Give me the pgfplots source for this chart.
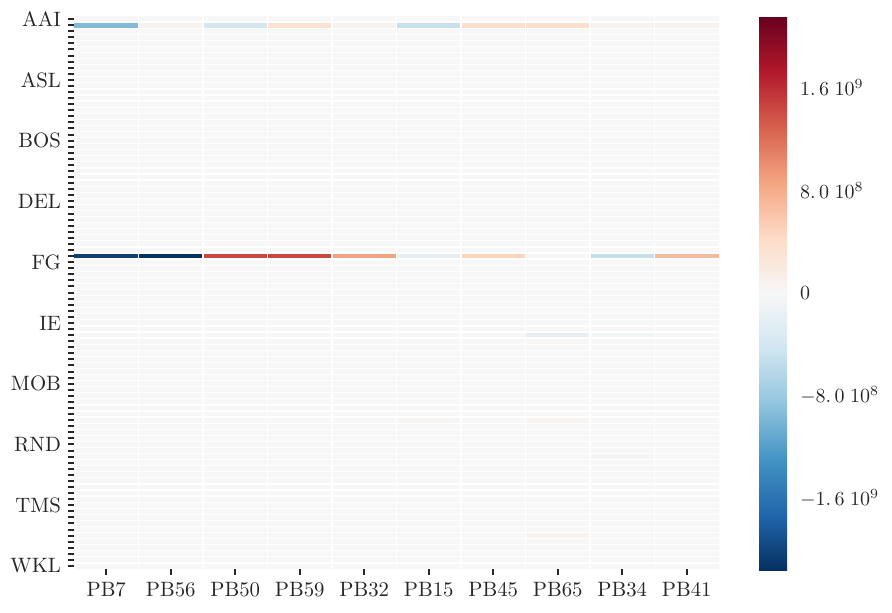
\documentclass[border=0pt]{standalone}
\usepackage{pgfplots}
\pgfplotsset{compat=1.18}
\definecolor{tickgray}{HTML}{262626}
\begin{document}
\begin{tikzpicture}
\begin{axis}[
  name=main,
  scale only axis, width=322.5pt, height=276.5pt,
  xmin=-0.5, xmax=9.5, ymin=-0.5, ymax=90.5,
  axis on top,
  axis line style={draw=none},
  colormap={rdbur}{rgb255=(5,48,97) rgb255=(33,102,172) rgb255=(67,147,195) rgb255=(146,197,222) rgb255=(209,229,240) rgb255=(247,247,247) rgb255=(253,219,199) rgb255=(244,165,130) rgb255=(214,96,77) rgb255=(178,24,43) rgb255=(103,0,31)},
  point meta min=-2.16e9, point meta max=2.16e9,
  xtick={0,...,9},
  xticklabels={PB7,PB56,PB50,PB59,PB32,PB15,PB45,PB65,PB34,PB41},
  ytick={0,10,...,90},
  yticklabels={WKL,TMS,RND,MOB,IE,FG,DEL,BOS,ASL,AAI},
  minor ytick={0,...,90},
  tick align=outside, xtick pos=bottom, ytick pos=left,
  major tick length=3pt, minor tick length=3pt,
  every tick/.style={tickgray, line width=1pt},
  tick label style={font=\fontsize{10.4}{12.5}\selectfont, text=tickgray},
  extra x ticks={0.5,1.5,...,8.5}, extra y ticks={0.5,1.5,...,89.5},
  extra x tick labels={}, extra y tick labels={},
  extra tick style={grid=major, major tick length=0pt, minor tick length=0pt, major grid style={white, line width=0.6pt}},
  colorbar right,
  colorbar style={
    scale only axis, width=14pt, height=277pt,
    at={(parent axis.north east)}, anchor=north west, xshift=11.5pt,
    scaled y ticks=false,
    ytick={-1.6e9,-8e8,0,8e8,1.6e9},
    yticklabels={$-1.{\,}6\;10^{9}$,$-8.{\,}0\;10^{8}$,$0$,$8.{\,}0\;10^{8}$,$1.{\,}6\;10^{9}$},
    minor ytick={}, extra y ticks={}, extra x ticks={},
    major tick length=0pt,
    axis line style={draw=none},
    yticklabel style={font=\fontsize{10.4}{12.5}\selectfont, text=tickgray, xshift=3pt},
  },
]
\addplot[matrix plot*, mesh/cols=10, point meta=explicit] coordinates {
(0,0)[0] (1,0)[0] (2,0)[0] (3,0)[0] (4,0)[0] (5,0)[0] (6,0)[0] (7,0)[0] (8,0)[0] (9,0)[0]
(0,1)[0] (1,1)[0] (2,1)[0] (3,1)[0] (4,1)[0] (5,1)[0] (6,1)[0] (7,1)[0] (8,1)[0] (9,1)[0]
(0,2)[0] (1,2)[0] (2,2)[0] (3,2)[0] (4,2)[0] (5,2)[0] (6,2)[0] (7,2)[0] (8,2)[0] (9,2)[0]
(0,3)[0] (1,3)[0] (2,3)[0] (3,3)[0] (4,3)[0] (5,3)[0] (6,3)[0] (7,3)[0] (8,3)[0] (9,3)[0]
(0,4)[0] (1,4)[0] (2,4)[0] (3,4)[0] (4,4)[0] (5,4)[0] (6,4)[0] (7,4)[0] (8,4)[0] (9,4)[0]
(0,5)[0] (1,5)[0] (2,5)[0] (3,5)[0] (4,5)[0] (5,5)[0] (6,5)[0] (7,5)[7e7] (8,5)[0] (9,5)[0]
(0,6)[0] (1,6)[0] (2,6)[0] (3,6)[0] (4,6)[0] (5,6)[0] (6,6)[0] (7,6)[0] (8,6)[0] (9,6)[0]
(0,7)[0] (1,7)[0] (2,7)[0] (3,7)[0] (4,7)[0] (5,7)[0] (6,7)[0] (7,7)[0] (8,7)[0] (9,7)[0]
(0,8)[0] (1,8)[0] (2,8)[0] (3,8)[0] (4,8)[0] (5,8)[0] (6,8)[0] (7,8)[0] (8,8)[0] (9,8)[0]
(0,9)[0] (1,9)[0] (2,9)[0] (3,9)[0] (4,9)[0] (5,9)[0] (6,9)[0] (7,9)[0] (8,9)[0] (9,9)[0]
(0,10)[0] (1,10)[0] (2,10)[0] (3,10)[0] (4,10)[0] (5,10)[0] (6,10)[0] (7,10)[0] (8,10)[0] (9,10)[0]
(0,11)[0] (1,11)[0] (2,11)[0] (3,11)[0] (4,11)[0] (5,11)[0] (6,11)[0] (7,11)[0] (8,11)[0] (9,11)[0]
(0,12)[0] (1,12)[0] (2,12)[0] (3,12)[0] (4,12)[0] (5,12)[0] (6,12)[0] (7,12)[0] (8,12)[0] (9,12)[0]
(0,13)[0] (1,13)[0] (2,13)[0] (3,13)[0] (4,13)[0] (5,13)[0] (6,13)[0] (7,13)[0] (8,13)[0] (9,13)[0]
(0,14)[0] (1,14)[0] (2,14)[0] (3,14)[0] (4,14)[0] (5,14)[0] (6,14)[0] (7,14)[0] (8,14)[0] (9,14)[0]
(0,15)[0] (1,15)[0] (2,15)[0] (3,15)[0] (4,15)[0] (5,15)[0] (6,15)[0] (7,15)[0] (8,15)[0] (9,15)[0]
(0,16)[0] (1,16)[0] (2,16)[0] (3,16)[0] (4,16)[0] (5,16)[0] (6,16)[0] (7,16)[0] (8,16)[0] (9,16)[0]
(0,17)[0] (1,17)[0] (2,17)[0] (3,17)[0] (4,17)[0] (5,17)[0] (6,17)[0] (7,17)[0] (8,17)[0] (9,17)[0]
(0,18)[0] (1,18)[0] (2,18)[0] (3,18)[0] (4,18)[0] (5,18)[0] (6,18)[0] (7,18)[0] (8,18)[-3e7] (9,18)[0]
(0,19)[0] (1,19)[0] (2,19)[0] (3,19)[0] (4,19)[0] (5,19)[0] (6,19)[0] (7,19)[0] (8,19)[0] (9,19)[0]
(0,20)[0] (1,20)[0] (2,20)[0] (3,20)[0] (4,20)[0] (5,20)[0] (6,20)[0] (7,20)[0] (8,20)[0] (9,20)[0]
(0,21)[0] (1,21)[0] (2,21)[0] (3,21)[0] (4,21)[0] (5,21)[0] (6,21)[0] (7,21)[0] (8,21)[0] (9,21)[0]
(0,22)[0] (1,22)[0] (2,22)[0] (3,22)[0] (4,22)[0] (5,22)[0] (6,22)[0] (7,22)[0] (8,22)[0] (9,22)[0]
(0,23)[0] (1,23)[0] (2,23)[0] (3,23)[0] (4,23)[0] (5,23)[0] (6,23)[0] (7,23)[0] (8,23)[0] (9,23)[0]
(0,24)[0] (1,24)[0] (2,24)[0] (3,24)[0] (4,24)[0] (5,24)[3e7] (6,24)[0] (7,24)[7e7] (8,24)[0] (9,24)[0]
(0,25)[0] (1,25)[0] (2,25)[0] (3,25)[0] (4,25)[0] (5,25)[0] (6,25)[0] (7,25)[0] (8,25)[0] (9,25)[0]
(0,26)[0] (1,26)[0] (2,26)[0] (3,26)[0] (4,26)[0] (5,26)[0] (6,26)[0] (7,26)[0] (8,26)[0] (9,26)[0]
(0,27)[0] (1,27)[0] (2,27)[0] (3,27)[0] (4,27)[0] (5,27)[0] (6,27)[0] (7,27)[0] (8,27)[0] (9,27)[0]
(0,28)[0] (1,28)[0] (2,28)[0] (3,28)[0] (4,28)[0] (5,28)[0] (6,28)[0] (7,28)[0] (8,28)[0] (9,28)[0]
(0,29)[0] (1,29)[0] (2,29)[0] (3,29)[0] (4,29)[0] (5,29)[0] (6,29)[0] (7,29)[0] (8,29)[0] (9,29)[0]
(0,30)[0] (1,30)[0] (2,30)[0] (3,30)[0] (4,30)[0] (5,30)[0] (6,30)[0] (7,30)[0] (8,30)[0] (9,30)[0]
(0,31)[0] (1,31)[0] (2,31)[0] (3,31)[0] (4,31)[0] (5,31)[0] (6,31)[0] (7,31)[0] (8,31)[0] (9,31)[0]
(0,32)[0] (1,32)[0] (2,32)[0] (3,32)[0] (4,32)[0] (5,32)[0] (6,32)[0] (7,32)[0] (8,32)[0] (9,32)[0]
(0,33)[0] (1,33)[0] (2,33)[0] (3,33)[0] (4,33)[0] (5,33)[0] (6,33)[0] (7,33)[0] (8,33)[0] (9,33)[0]
(0,34)[0] (1,34)[0] (2,34)[0] (3,34)[0] (4,34)[0] (5,34)[0] (6,34)[0] (7,34)[0] (8,34)[0] (9,34)[0]
(0,35)[0] (1,35)[0] (2,35)[0] (3,35)[0] (4,35)[0] (5,35)[0] (6,35)[0] (7,35)[0] (8,35)[0] (9,35)[0]
(0,36)[0] (1,36)[0] (2,36)[0] (3,36)[0] (4,36)[0] (5,36)[0] (6,36)[0] (7,36)[0] (8,36)[0] (9,36)[0]
(0,37)[0] (1,37)[0] (2,37)[0] (3,37)[0] (4,37)[0] (5,37)[0] (6,37)[0] (7,37)[0] (8,37)[0] (9,37)[0]
(0,38)[0] (1,38)[0] (2,38)[0] (3,38)[0] (4,38)[0] (5,38)[0] (6,38)[0] (7,38)[-1.8e8] (8,38)[-5e7] (9,38)[0]
(0,39)[0] (1,39)[0] (2,39)[0] (3,39)[0] (4,39)[0] (5,39)[0] (6,39)[0] (7,39)[0] (8,39)[0] (9,39)[0]
(0,40)[0] (1,40)[0] (2,40)[0] (3,40)[0] (4,40)[0] (5,40)[0] (6,40)[0] (7,40)[0] (8,40)[0] (9,40)[0]
(0,41)[0] (1,41)[0] (2,41)[0] (3,41)[0] (4,41)[0] (5,41)[0] (6,41)[0] (7,41)[0] (8,41)[0] (9,41)[0]
(0,42)[0] (1,42)[0] (2,42)[0] (3,42)[0] (4,42)[0] (5,42)[0] (6,42)[0] (7,42)[0] (8,42)[0] (9,42)[0]
(0,43)[0] (1,43)[0] (2,43)[0] (3,43)[0] (4,43)[0] (5,43)[0] (6,43)[0] (7,43)[0] (8,43)[0] (9,43)[0]
(0,44)[0] (1,44)[0] (2,44)[0] (3,44)[0] (4,44)[0] (5,44)[0] (6,44)[0] (7,44)[0] (8,44)[0] (9,44)[0]
(0,45)[0] (1,45)[0] (2,45)[0] (3,45)[0] (4,45)[0] (5,45)[0] (6,45)[0] (7,45)[0] (8,45)[0] (9,45)[0]
(0,46)[0] (1,46)[0] (2,46)[0] (3,46)[0] (4,46)[0] (5,46)[0] (6,46)[0] (7,46)[0] (8,46)[0] (9,46)[0]
(0,47)[0] (1,47)[0] (2,47)[0] (3,47)[0] (4,47)[0] (5,47)[0] (6,47)[0] (7,47)[0] (8,47)[0] (9,47)[0]
(0,48)[0] (1,48)[0] (2,48)[0] (3,48)[0] (4,48)[0] (5,48)[0] (6,48)[0] (7,48)[0] (8,48)[0] (9,48)[0]
(0,49)[0] (1,49)[0] (2,49)[0] (3,49)[0] (4,49)[0] (5,49)[0] (6,49)[0] (7,49)[0] (8,49)[0] (9,49)[0]
(0,50)[0] (1,50)[0] (2,50)[0] (3,50)[0] (4,50)[0] (5,50)[0] (6,50)[0] (7,50)[0] (8,50)[0] (9,50)[0]
(0,51)[-2.03e9] (1,51)[-2.15e9] (2,51)[1.45e9] (3,51)[1.45e9] (4,51)[8.8e8] (5,51)[-2.2e8] (6,51)[5e8] (7,51)[2e7] (8,51)[-5.3e8] (9,51)[7e8]
(0,52)[0] (1,52)[0] (2,52)[0] (3,52)[0] (4,52)[0] (5,52)[0] (6,52)[0] (7,52)[0] (8,52)[0] (9,52)[0]
(0,53)[0] (1,53)[0] (2,53)[0] (3,53)[0] (4,53)[0] (5,53)[0] (6,53)[0] (7,53)[0] (8,53)[0] (9,53)[0]
(0,54)[0] (1,54)[0] (2,54)[0] (3,54)[0] (4,54)[0] (5,54)[0] (6,54)[0] (7,54)[0] (8,54)[0] (9,54)[0]
(0,55)[0] (1,55)[0] (2,55)[0] (3,55)[0] (4,55)[0] (5,55)[0] (6,55)[0] (7,55)[0] (8,55)[0] (9,55)[0]
(0,56)[0] (1,56)[0] (2,56)[0] (3,56)[0] (4,56)[0] (5,56)[0] (6,56)[0] (7,56)[0] (8,56)[0] (9,56)[0]
(0,57)[0] (1,57)[0] (2,57)[0] (3,57)[0] (4,57)[0] (5,57)[0] (6,57)[0] (7,57)[0] (8,57)[0] (9,57)[0]
(0,58)[0] (1,58)[0] (2,58)[0] (3,58)[0] (4,58)[0] (5,58)[0] (6,58)[0] (7,58)[0] (8,58)[0] (9,58)[0]
(0,59)[0] (1,59)[0] (2,59)[0] (3,59)[0] (4,59)[0] (5,59)[0] (6,59)[0] (7,59)[0] (8,59)[0] (9,59)[0]
(0,60)[0] (1,60)[0] (2,60)[0] (3,60)[0] (4,60)[0] (5,60)[0] (6,60)[0] (7,60)[0] (8,60)[0] (9,60)[0]
(0,61)[0] (1,61)[0] (2,61)[0] (3,61)[0] (4,61)[0] (5,61)[0] (6,61)[0] (7,61)[0] (8,61)[0] (9,61)[0]
(0,62)[0] (1,62)[0] (2,62)[0] (3,62)[0] (4,62)[0] (5,62)[0] (6,62)[0] (7,62)[0] (8,62)[0] (9,62)[0]
(0,63)[0] (1,63)[0] (2,63)[0] (3,63)[0] (4,63)[0] (5,63)[0] (6,63)[0] (7,63)[0] (8,63)[0] (9,63)[0]
(0,64)[0] (1,64)[0] (2,64)[0] (3,64)[0] (4,64)[0] (5,64)[0] (6,64)[0] (7,64)[0] (8,64)[0] (9,64)[0]
(0,65)[0] (1,65)[0] (2,65)[0] (3,65)[0] (4,65)[0] (5,65)[0] (6,65)[0] (7,65)[0] (8,65)[0] (9,65)[0]
(0,66)[0] (1,66)[0] (2,66)[0] (3,66)[0] (4,66)[0] (5,66)[0] (6,66)[0] (7,66)[0] (8,66)[0] (9,66)[0]
(0,67)[0] (1,67)[0] (2,67)[0] (3,67)[0] (4,67)[0] (5,67)[0] (6,67)[0] (7,67)[0] (8,67)[0] (9,67)[0]
(0,68)[0] (1,68)[0] (2,68)[0] (3,68)[0] (4,68)[0] (5,68)[0] (6,68)[0] (7,68)[0] (8,68)[0] (9,68)[0]
(0,69)[0] (1,69)[0] (2,69)[0] (3,69)[0] (4,69)[0] (5,69)[0] (6,69)[0] (7,69)[0] (8,69)[0] (9,69)[0]
(0,70)[0] (1,70)[0] (2,70)[0] (3,70)[0] (4,70)[0] (5,70)[0] (6,70)[0] (7,70)[0] (8,70)[0] (9,70)[0]
(0,71)[0] (1,71)[0] (2,71)[0] (3,71)[0] (4,71)[0] (5,71)[0] (6,71)[0] (7,71)[0] (8,71)[0] (9,71)[0]
(0,72)[0] (1,72)[0] (2,72)[0] (3,72)[0] (4,72)[0] (5,72)[0] (6,72)[0] (7,72)[0] (8,72)[0] (9,72)[0]
(0,73)[0] (1,73)[0] (2,73)[0] (3,73)[0] (4,73)[0] (5,73)[0] (6,73)[0] (7,73)[0] (8,73)[0] (9,73)[0]
(0,74)[0] (1,74)[0] (2,74)[0] (3,74)[0] (4,74)[0] (5,74)[0] (6,74)[0] (7,74)[0] (8,74)[0] (9,74)[0]
(0,75)[0] (1,75)[0] (2,75)[0] (3,75)[0] (4,75)[0] (5,75)[0] (6,75)[0] (7,75)[0] (8,75)[0] (9,75)[0]
(0,76)[0] (1,76)[0] (2,76)[0] (3,76)[0] (4,76)[0] (5,76)[0] (6,76)[0] (7,76)[0] (8,76)[0] (9,76)[0]
(0,77)[0] (1,77)[0] (2,77)[0] (3,77)[0] (4,77)[0] (5,77)[0] (6,77)[0] (7,77)[0] (8,77)[0] (9,77)[0]
(0,78)[0] (1,78)[0] (2,78)[0] (3,78)[0] (4,78)[0] (5,78)[0] (6,78)[0] (7,78)[0] (8,78)[0] (9,78)[0]
(0,79)[0] (1,79)[0] (2,79)[0] (3,79)[0] (4,79)[0] (5,79)[0] (6,79)[0] (7,79)[0] (8,79)[0] (9,79)[0]
(0,80)[0] (1,80)[0] (2,80)[0] (3,80)[0] (4,80)[0] (5,80)[0] (6,80)[0] (7,80)[0] (8,80)[0] (9,80)[0]
(0,81)[0] (1,81)[0] (2,81)[0] (3,81)[0] (4,81)[0] (5,81)[0] (6,81)[0] (7,81)[0] (8,81)[0] (9,81)[0]
(0,82)[0] (1,82)[0] (2,82)[0] (3,82)[0] (4,82)[0] (5,82)[0] (6,82)[0] (7,82)[0] (8,82)[0] (9,82)[0]
(0,83)[0] (1,83)[0] (2,83)[0] (3,83)[0] (4,83)[0] (5,83)[0] (6,83)[0] (7,83)[0] (8,83)[0] (9,83)[0]
(0,84)[0] (1,84)[0] (2,84)[0] (3,84)[0] (4,84)[0] (5,84)[0] (6,84)[0] (7,84)[0] (8,84)[0] (9,84)[0]
(0,85)[0] (1,85)[0] (2,85)[0] (3,85)[0] (4,85)[0] (5,85)[0] (6,85)[0] (7,85)[0] (8,85)[0] (9,85)[0]
(0,86)[0] (1,86)[0] (2,86)[0] (3,86)[0] (4,86)[0] (5,86)[0] (6,86)[0] (7,86)[0] (8,86)[0] (9,86)[0]
(0,87)[0] (1,87)[0] (2,87)[0] (3,87)[0] (4,87)[0] (5,87)[0] (6,87)[0] (7,87)[0] (8,87)[0] (9,87)[0]
(0,88)[0] (1,88)[0] (2,88)[0] (3,88)[0] (4,88)[0] (5,88)[0] (6,88)[0] (7,88)[0] (8,88)[0] (9,88)[0]
(0,89)[-9.5e8] (1,89)[8e7] (2,89)[-4e8] (3,89)[3.3e8] (4,89)[8e7] (5,89)[-5e8] (6,89)[3.7e8] (7,89)[3.7e8] (8,89)[6e7] (9,89)[8e7]
(0,90)[0] (1,90)[0] (2,90)[0] (3,90)[0] (4,90)[0] (5,90)[0] (6,90)[0] (7,90)[0] (8,90)[0] (9,90)[0]
};
\end{axis}
\path ([shift={(-37pt,-21.5pt)}]main.south west) rectangle ([shift={(409pt,284.5pt)}]main.south west);
\end{tikzpicture}
\end{document}
